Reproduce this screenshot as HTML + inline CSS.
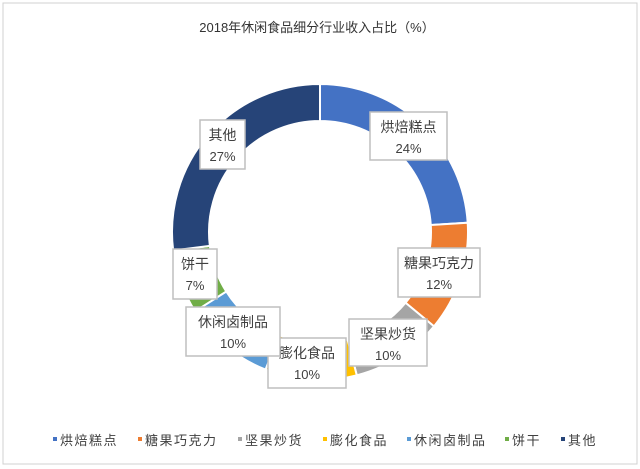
<!DOCTYPE html>
<html><head><meta charset="utf-8"><style>
html,body{margin:0;padding:0;background:#fff;}
svg{display:block;font-family:"Liberation Sans","Noto Sans CJK SC",sans-serif;}
</style></head><body>
<svg id="chart" width="640" height="469" viewBox="0 0 640 469">
<rect x="3" y="3" width="634" height="461" fill="#fff" stroke="#d0d0d0" stroke-width="1"/>
<text x="317" y="32" text-anchor="middle" font-size="13" fill="#333">2018年休闲食品细分行业收入占比（%）</text>
<g id="slices"></g>
<g id="labels"></g>
<g id="legend"></g>
</svg>
<script>
const categories=["烘焙糕点","糖果巧克力","坚果炒货","膨化食品","休闲卤制品","饼干","其他"];
const values=[24,12,10,10,10,7,27];
const colors=["#4472c4","#ed7d31","#a5a5a5","#ffc000","#5b9bd5","#70ad47","#264478"];
const labelBoxes=[[370,112,77,48],[398,248,82,49],[349,319,78,47],[268,338,78,50],[186,307,94,49],[173,249,44,50],[200,120,45,49]];
const legendX=[53,138,238,323,407,505,561];
const NS="http://www.w3.org/2000/svg";
const cx=320,cy=232,R=148,r=111;
const total=values.reduce((a,b)=>a+b,0);
const sg=document.getElementById('slices');
function pt(a,rad){return [cx+rad*Math.sin(a),cy-rad*Math.cos(a)];}
let acc=0;
values.forEach((v,i)=>{
  const a0=acc/total*2*Math.PI, a1=(acc+v)/total*2*Math.PI; acc+=v;
  const large=(a1-a0)>Math.PI?1:0;
  const p0=pt(a0,R),p1=pt(a1,R),q1=pt(a1,r),q0=pt(a0,r);
  const p=document.createElementNS(NS,'path');
  p.setAttribute('d',`M${p0[0]},${p0[1]}A${R},${R} 0 ${large} 1 ${p1[0]},${p1[1]}L${q1[0]},${q1[1]}A${r},${r} 0 ${large} 0 ${q0[0]},${q0[1]}Z`);
  p.setAttribute('fill',colors[i]);p.setAttribute('stroke','#fff');p.setAttribute('stroke-width','2');
  
  
  sg.appendChild(p);
});
const lg=document.getElementById('labels');
categories.forEach((c,i)=>{
  const b=labelBoxes[i];
  const g=document.createElementNS(NS,'g');
  
  
  const rc=document.createElementNS(NS,'rect');
  rc.setAttribute('x',b[0]);rc.setAttribute('y',b[1]);rc.setAttribute('width',b[2]);rc.setAttribute('height',b[3]);
  rc.setAttribute('fill','#fff');rc.setAttribute('stroke','#bfbfbf');rc.setAttribute('stroke-width','1.5');
  g.appendChild(rc);
  const t1=document.createElementNS(NS,'text');
  t1.setAttribute('x',b[0]+b[2]/2);t1.setAttribute('y',b[1]+20);t1.setAttribute('text-anchor','middle');
  t1.setAttribute('font-size','14');t1.setAttribute('fill','#404040');t1.textContent=c;
  g.appendChild(t1);
  const t2=document.createElementNS(NS,'text');
  t2.setAttribute('x',b[0]+b[2]/2);t2.setAttribute('y',b[1]+41);t2.setAttribute('text-anchor','middle');
  t2.setAttribute('font-size','13');t2.setAttribute('fill','#404040');t2.textContent=values[i]+'%';
  g.appendChild(t2);
  lg.appendChild(g);
});
const leg=document.getElementById('legend');
categories.forEach((c,i)=>{
  const g=document.createElementNS(NS,'g');
  
  
  const m=document.createElementNS(NS,'rect');
  m.setAttribute('x',legendX[i]);m.setAttribute('y',437);m.setAttribute('width',4);m.setAttribute('height',4);
  m.setAttribute('fill',colors[i]);g.appendChild(m);
  const t=document.createElementNS(NS,'text');
  t.setAttribute('x',legendX[i]+7);t.setAttribute('y',445);t.setAttribute('font-size','13');
  t.setAttribute('fill','#404040');t.setAttribute('letter-spacing','1.5');t.textContent=c;
  g.appendChild(t);
  leg.appendChild(g);
});
</script>
</body></html>
